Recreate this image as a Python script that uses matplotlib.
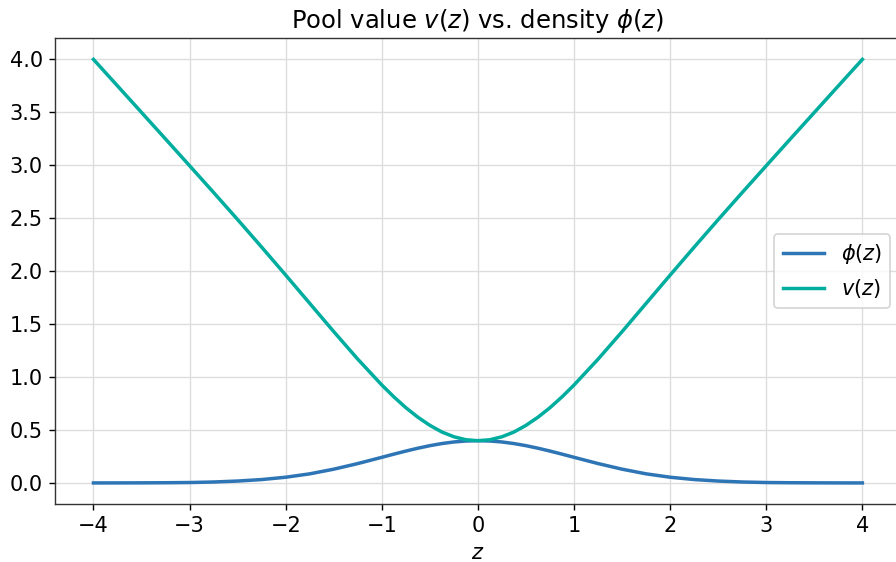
import numpy as np
import matplotlib
matplotlib.use("Agg")
import matplotlib.pyplot as plt

# values
z = [-4, -3.75, -3.5, -3.25, -3, -2.75, -2.5, -2.25, -2, -1.75, -1.5, -1.25,
     -1, -0.875, -0.75, -0.625, -0.5, -0.375, -0.25, -0.125, 0,
     0.125, 0.25, 0.375, 0.5, 0.625, 0.75, 0.875, 1,
     1.25, 1.5, 1.75, 2, 2.25, 2.5, 2.75, 3, 3.25, 3.5, 3.75, 4]

phi_half = [0.399, 0.396, 0.387, 0.372, 0.352, 0.328, 0.301, 0.272, 0.242,
            0.183, 0.130, 0.086, 0.054, 0.032, 0.018, 0.009, 0.004, 0.002,
            0.001, 0.0004, 0.0001]
v_half = [0.399, 0.408, 0.436, 0.481, 0.544, 0.621, 0.711, 0.813, 0.925,
          1.169, 1.429, 1.696, 1.963, 2.227, 2.487, 2.743, 2.996, 3.248,
          3.499, 3.750, 4.000]

phi = phi_half[::-1] + phi_half[1:]
v = v_half[::-1] + v_half[1:]

fig = plt.figure(figsize=(7.168, 4.496), dpi=125)
ax = fig.add_axes([0.0614, 0.103, 0.944, 0.829])

ax.plot(z, phi, color="#2e75b6", lw=2.0, label=r"$\phi(z)$")
ax.plot(z, v, color="#00ad9f", lw=2.0, label=r"$v(z)$")

ax.set_title(r"Pool value $v(z)$ vs. density $\phi(z)$", fontsize=14)
ax.set_xlabel(r"$z$", fontsize=12)
ax.tick_params(labelsize=12)
ax.grid(True, color="#dddddd", lw=0.8)
for s in ax.spines.values():
    s.set_color("#333333")
ax.legend(loc="center right", fontsize=12)

fig.savefig("out.png", dpi=125)
